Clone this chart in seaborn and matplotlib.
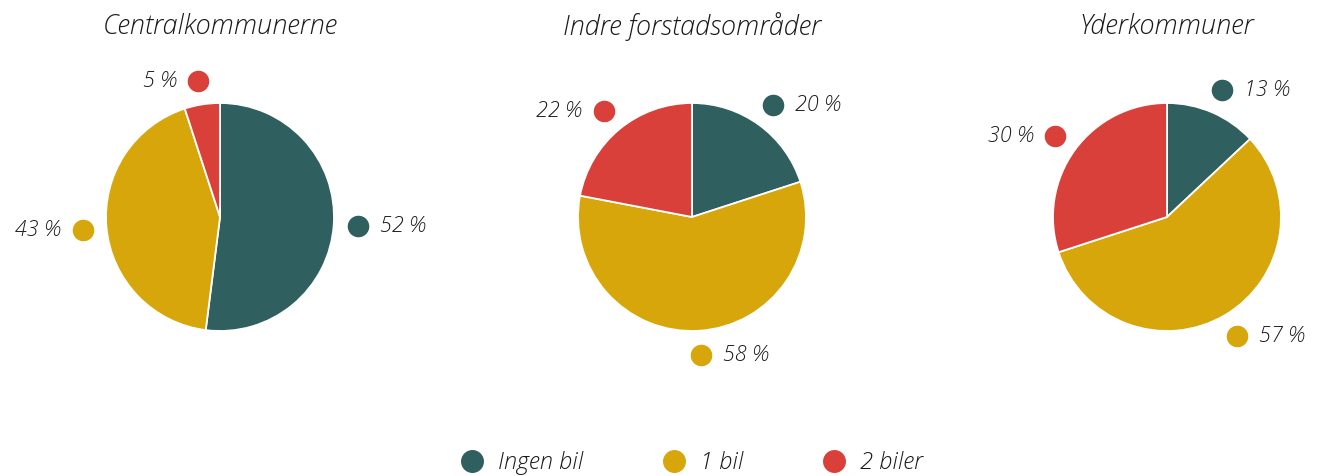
import numpy as np
import seaborn as sns
import matplotlib.pyplot as plt
from matplotlib.lines import Line2D

sns.set_theme(style="white")
plt.rcParams['font.family'] = ['Open Sans', 'DejaVu Sans']

# data
regions = ['Centralkommunerne', 'Indre forstadsområder', 'Yderkommuner']
categories = ['Ingen bil', '1 bil', '2 biler']
ingen_bil = [52, 20, 13]
en_bil = [43, 58, 57]
to_biler = [5, 22, 30]
colors = ['#2f5f5e', '#d6a60b', '#d9403a']

W, H = 1325, 476
fig = plt.figure(figsize=(W / 100, H / 100), dpi=100)

centers_x = [220, 692, 1167]
center_y = 217
r_px = 114
half = 170  # half axes size in px
lim = half / r_px

txt_kw = dict(fontsize=15.5, style='italic', fontweight='light', color='#1a1a1a')

for i, region in enumerate(regions):
    cx = centers_x[i]
    ax = fig.add_axes([(cx - half) / W, (H - center_y - half) / H,
                       2 * half / W, 2 * half / H])
    vals = [ingen_bil[i], en_bil[i], to_biler[i]]
    wedges, _ = ax.pie(vals, colors=colors, startangle=90, counterclock=False,
                       radius=1, wedgeprops=dict(edgecolor='white', linewidth=1.3))
    ax.set_xlim(-lim, lim)
    ax.set_ylim(-lim, lim)
    ax.set_aspect('equal')
    ax.axis('off')
    for w, v, c in zip(wedges, vals, colors):
        ang = np.deg2rad((w.theta1 + w.theta2) / 2)
        x, y = 1.21 * np.cos(ang), 1.21 * np.sin(ang)
        ax.plot(x, y, 'o', ms=14.5, color=c, clip_on=False)
        off = 22 / r_px
        if x >= 0:
            ax.text(x + off, y, f'{v} %', ha='left', va='center', **txt_kw)
        else:
            ax.text(x - off, y, f'{v} %', ha='right', va='center', **txt_kw)
    fig.text(cx / W, 1 - 27 / H, region, ha='center', va='center',
             fontsize=19.5, style='italic', fontweight='light', color='#1a1a1a')

handles = [Line2D([], [], marker='o', ls='none', ms=15.5, color=c) for c in colors]
leg = fig.legend(handles, categories, loc='center', bbox_to_anchor=(0.522, 1 - 463 / H),
                 ncol=3, frameon=False, handlelength=1.0, handletextpad=0.6,
                 columnspacing=3.35,
                 prop=dict(family='Open Sans', size=17, style='italic', weight='light'))
for t in leg.get_texts():
    t.set_color('#1a1a1a')

fig.savefig('out.png', dpi=100)
